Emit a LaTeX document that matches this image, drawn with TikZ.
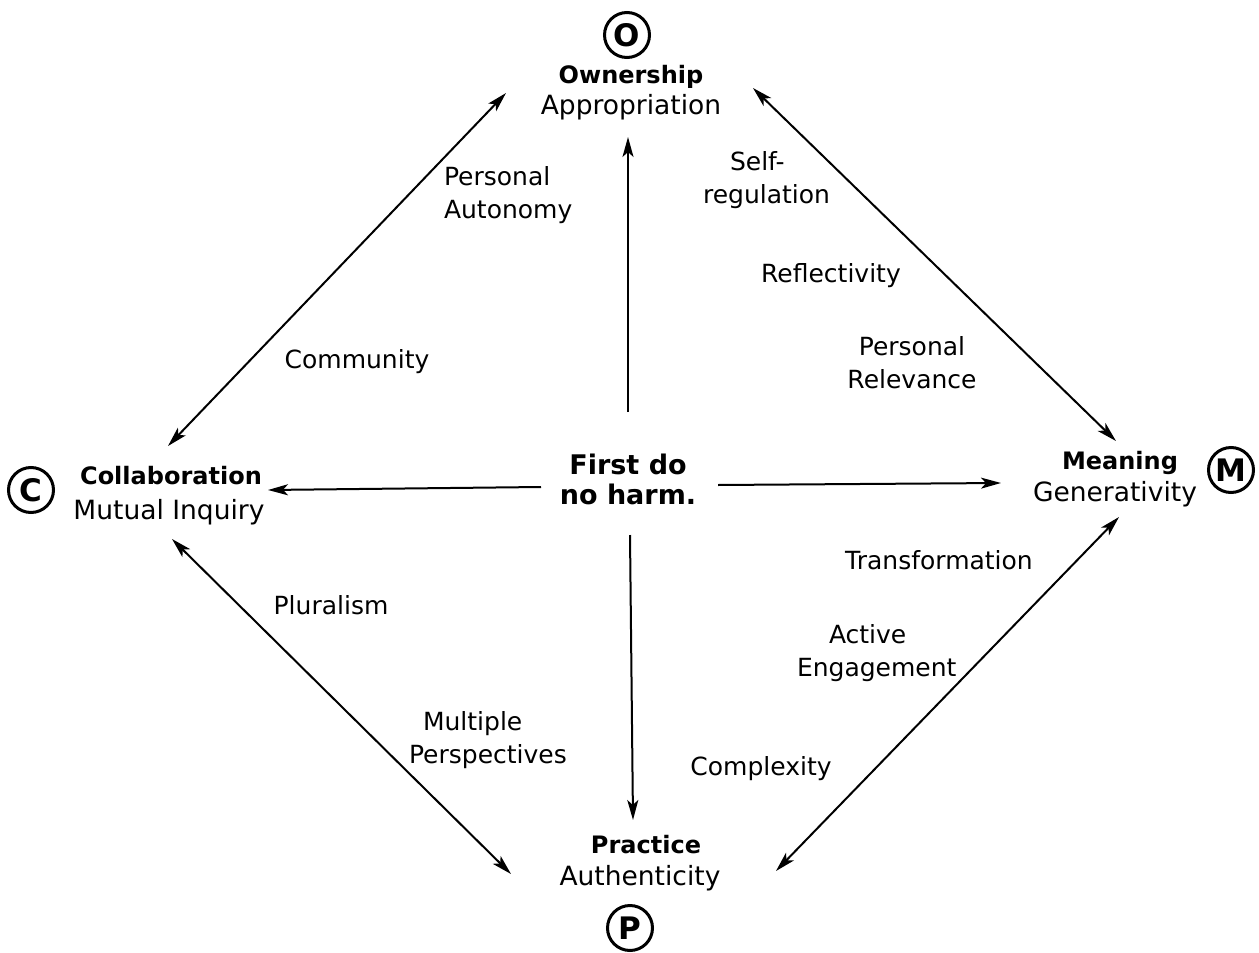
\documentclass[tikz,border=0pt]{standalone}
\usepackage{fontspec}
\setmainfont{DejaVu Sans}
\usetikzlibrary{arrows.meta}
\begin{document}
\begin{tikzpicture}[x=1pt,y=-1pt,
  every node/.style={inner sep=0pt, outer sep=0pt},
  head/.style={font=\fontsize{24}{28}\selectfont\bfseries},
  sub/.style={font=\fontsize{26.5}{30}\selectfont},
  lbl/.style={font=\fontsize{25}{33}\selectfont, align=center},
  ring/.style={circle, draw, line width=3pt, minimum size=45pt, font=\fontsize{31}{33}\selectfont\bfseries},
  link/.style={line width=2pt, {Stealth[length=20pt,width=11pt,inset=5pt]}-{Stealth[length=20pt,width=11pt,inset=5pt]}},
  ray/.style={line width=2pt, -{Stealth[length=20pt,width=11pt,inset=5pt]}}]
\useasboundingbox (0,0) rectangle (1259,953);

% the four poles
\node[ring] (cO) at (627,35) {O};
\node[head] (own) at (631,77) {Ownership};
\node[sub]  (app) at (631,107) {Appropriation};

\node[ring] (cC) at (31,490) {C};
\node[head] (col) at (171,476) {Collaboration};
\node[sub]  (mut) at (169,512) {Mutual Inquiry};

\node[ring] (cM) at (1231,470) {M};
\node[head] (mea) at (1120,463) {Meaning};
\node[sub]  (gen) at (1115,494) {Generativity};

\node[head] (pra) at (646,845) {Practice};
\node[sub]  (aut) at (640,878) {Authenticity};
\node[ring] (cP) at (630,928) {P};

% centre
\node[font=\fontsize{27}{30}\selectfont\bfseries, align=center] (harm) at (628,479) {First do\\no harm.};

% connector end points
\coordinate (tlA) at (168,446);
\coordinate (tlB) at (506,93);
\coordinate (trA) at (753,88);
\coordinate (trB) at (1116,441);
\coordinate (blA) at (172,539);
\coordinate (blB) at (511,874);
\coordinate (brA) at (1119,517);
\coordinate (brB) at (776,871);
\coordinate (upA) at (628,412);
\coordinate (upB) at (628,137);
\coordinate (dnA) at (630,535);
\coordinate (dnB) at (633,820);
\coordinate (lfA) at (541,487);
\coordinate (lfB) at (268,490);
\coordinate (rtA) at (718,485);
\coordinate (rtB) at (1001,483);

\draw[link] (tlA) -- (tlB);
\draw[link] (trA) -- (trB);
\draw[link] (blA) -- (blB);
\draw[link] (brA) -- (brB);
\draw[ray] (upA) -- (upB);
\draw[ray] (dnA) -- (dnB);
\draw[ray] (lfA) -- (lfB);
\draw[ray] (rtA) -- (rtB);

% qualities along the sides
\node[lbl, align=left, anchor=west] (pa) at (444,195) {Personal\\Autonomy};
\node[lbl] (cm) at (357,362) {Community};
\node[lbl, align=left, anchor=west] (sr) at (703,180) {\hspace*{27pt}Self-\\regulation};
\node[lbl] (rf) at (831,276) {Reflectivity};
\node[lbl] (pr) at (912,363) {Personal\\Relevance};
\node[lbl] (tr) at (939,560) {Transformation};
\node[lbl, align=left, anchor=west] (ae) at (797,653) {\hspace*{32pt}Active\\Engagement};
\node[lbl] (cx) at (761,769) {Complexity};
\node[lbl] (pl) at (331,605) {Pluralism};
\node[lbl, align=left, anchor=west] (mp) at (409,740) {\hspace*{14pt}Multiple\\Perspectives};
\end{tikzpicture}
\end{document}
